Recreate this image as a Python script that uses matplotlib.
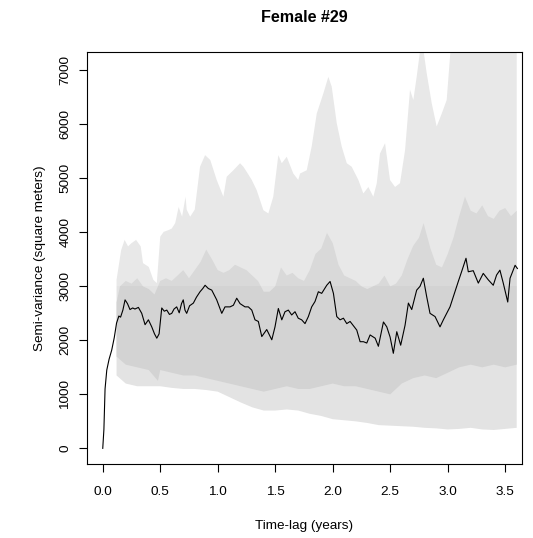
import matplotlib
matplotlib.use("Agg")
import matplotlib.pyplot as plt
from matplotlib.patches import Rectangle
import numpy as np

plt.rcParams['font.family'] = ['Liberation Sans', 'DejaVu Sans']

# empirical semi-variance (time-lag in years, semi-variance in m^2)
lag = [0.000, 0.010, 0.020, 0.035, 0.055, 0.078, 0.100, 0.120, 0.140, 0.155,
       0.175, 0.194, 0.215, 0.237, 0.260, 0.280, 0.310, 0.339, 0.368, 0.397,
       0.426, 0.450, 0.470, 0.490, 0.513, 0.535, 0.557, 0.580, 0.600, 0.620,
       0.643, 0.665, 0.685, 0.700, 0.715, 0.730, 0.755, 0.788, 0.815, 0.846,
       0.870, 0.890, 0.918, 0.948, 0.991, 1.035, 1.063, 1.107, 1.136, 1.165,
       1.194, 1.237, 1.266, 1.296, 1.324, 1.353, 1.383, 1.426, 1.470, 1.498,
       1.527, 1.557, 1.585, 1.614, 1.643, 1.672, 1.700, 1.730, 1.759, 1.788,
       1.817, 1.846, 1.875, 1.904, 1.948, 1.977, 2.006, 2.035, 2.064, 2.093,
       2.122, 2.151, 2.209, 2.238, 2.267, 2.296, 2.325, 2.369, 2.397, 2.441,
       2.470, 2.499, 2.527, 2.557, 2.591, 2.629, 2.658, 2.687, 2.730, 2.759,
       2.788, 2.817, 2.846, 2.890, 2.933, 2.962, 2.991, 3.020, 3.049, 3.092,
       3.122, 3.159, 3.179, 3.222, 3.266, 3.309, 3.353, 3.396, 3.425, 3.454,
       3.483, 3.522, 3.542, 3.586, 3.606]
svf = [0, 350, 1100, 1450, 1650, 1820, 2050, 2320, 2450, 2430,
       2560, 2750, 2680, 2570, 2600, 2580, 2610, 2500, 2290, 2380,
       2250, 2120, 2040, 2120, 2600, 2540, 2560, 2480, 2500, 2580,
       2620, 2510, 2680, 2750, 2560, 2500, 2640, 2690, 2800, 2900,
       2960, 3020, 2960, 2930, 2750, 2500, 2620, 2620, 2650, 2780,
       2680, 2620, 2620, 2560, 2380, 2350, 2070, 2200, 2010, 2250,
       2590, 2380, 2530, 2560, 2470, 2530, 2410, 2380, 2310, 2440,
       2620, 2720, 2900, 2870, 3020, 3090, 2870, 2440, 2380, 2410,
       2310, 2350, 2190, 1975, 1975, 1950, 2100, 2040, 1890, 2340,
       2250, 2060, 1760, 2160, 1910, 2280, 2690, 2570, 2930, 3000,
       3150, 2810, 2500, 2440, 2250, 2380, 2500, 2620, 2810, 3090,
       3280, 3520, 3270, 3290, 3060, 3240, 3120, 3020, 3210, 3300,
       3060, 2710, 3150, 3390, 3330]

# outer confidence band, upper edge
outer_hi_lag = [0.12, 0.16, 0.19, 0.22, 0.25, 0.29, 0.33, 0.35, 0.40, 0.44,
                0.47, 0.50, 0.53, 0.57, 0.60, 0.63, 0.66, 0.69, 0.72, 0.73,
                0.76, 0.80, 0.846, 0.89, 0.935, 0.991, 1.049, 1.078, 1.107, 1.136,
                1.194, 1.223, 1.252, 1.296, 1.339, 1.397, 1.44, 1.483, 1.527, 1.557,
                1.60, 1.657, 1.70, 1.716, 1.774, 1.817, 1.861, 1.918, 1.962, 1.991,
                2.035, 2.078, 2.122, 2.165, 2.223, 2.266, 2.31, 2.353, 2.383, 2.411,
                2.455, 2.498, 2.542, 2.585, 2.629, 2.672, 2.701, 2.73, 2.774, 2.817,
                2.861, 2.904, 2.948, 2.991, 3.02, 3.049, 3.60]
outer_hi = [3120, 3670, 3860, 3740, 3800, 3860, 3740, 3430, 3360, 3120,
            3060, 3920, 4010, 4040, 4070, 4170, 4470, 4290, 4660, 4420,
            4290, 4420, 5215, 5430, 5340, 4970, 4660, 5030, 5090, 5150,
            5280, 5215, 5120, 4970, 4780, 4410, 4350, 4660, 5430, 5280,
            5400, 5090, 4970, 5090, 5150, 5590, 6200, 6570, 6880, 6700,
            6020, 5590, 5280, 5215, 4970, 4720, 4840, 4660, 4910, 5460,
            5650, 4970, 4840, 4910, 5520, 6640, 6450, 6880, 7600, 6950,
            6390, 5960, 6200, 6450, 7250, 8000, 8000]

# outer confidence band, lower edge
outer_lo_lag = [0.12, 0.2, 0.3, 0.4, 0.5, 0.6, 0.7, 0.8, 0.9, 1.0,
                1.1, 1.2, 1.3, 1.4, 1.5, 1.6, 1.7, 1.8, 1.9, 2.0,
                2.1, 2.2, 2.3, 2.4, 2.5, 2.6, 2.7, 2.8, 2.9, 3.0,
                3.1, 3.2, 3.3, 3.4, 3.5, 3.6]
outer_lo = [1350, 1200, 1150, 1150, 1150, 1120, 1100, 1100, 1080, 1050,
            950, 850, 760, 700, 700, 720, 700, 640, 600, 540,
            520, 500, 470, 430, 420, 410, 400, 380, 370, 350,
            360, 380, 350, 340, 360, 380]

# inner confidence band
inner_hi_lag = [0.12, 0.15, 0.2, 0.25, 0.3, 0.35, 0.4, 0.45, 0.5, 0.55,
                0.6, 0.65, 0.7, 0.75, 0.8, 0.85, 0.9, 0.95, 1.0, 1.05,
                1.1, 1.15, 1.2, 1.25, 1.3, 1.35, 1.4, 1.45, 1.5, 1.55,
                1.6, 1.65, 1.7, 1.75, 1.8, 1.85, 1.9, 1.95, 2.0, 2.05,
                2.1, 2.15, 2.2, 2.25, 2.3, 2.35, 2.4, 2.45, 2.5, 2.55,
                2.6, 2.65, 2.7, 2.75, 2.79, 2.85, 2.9, 2.95, 3.0, 3.05,
                3.1, 3.15, 3.2, 3.25, 3.3, 3.35, 3.4, 3.45, 3.5, 3.55, 3.6]
inner_hi = [2700, 3000, 3100, 3050, 3150, 3000, 2950, 2850, 3100, 3150,
            3100, 3200, 3300, 3150, 3300, 3450, 3680, 3500, 3300, 3250,
            3300, 3400, 3350, 3300, 3200, 3100, 2900, 2900, 3000, 3350,
            3200, 3250, 3150, 3100, 3300, 3600, 3700, 3990, 3800, 3400,
            3200, 3150, 3100, 3000, 2950, 3000, 3050, 3200, 3000, 3050,
            3200, 3500, 3750, 3900, 4170, 3700, 3400, 3350, 3600, 3900,
            4300, 4660, 4400, 4350, 4500, 4300, 4250, 4400, 4450, 4300, 4400]

inner_lo_lag = [0.12, 0.2, 0.3, 0.4, 0.48, 0.5, 0.6, 0.7, 0.8, 0.9,
                1.0, 1.1, 1.2, 1.3, 1.4, 1.5, 1.6, 1.7, 1.8, 1.9,
                2.0, 2.1, 2.2, 2.3, 2.4, 2.5, 2.6, 2.7, 2.8, 2.9,
                3.0, 3.1, 3.2, 3.3, 3.4, 3.5, 3.6]
inner_lo = [1700, 1550, 1500, 1450, 1250, 1450, 1400, 1350, 1350, 1300,
            1250, 1200, 1150, 1100, 1050, 1100, 1150, 1100, 1100, 1150,
            1200, 1150, 1150, 1100, 1050, 1000, 1200, 1300, 1350, 1300,
            1400, 1500, 1550, 1500, 1550, 1500, 1550]

x_ticks = [0.0, 0.5, 1.0, 1.5, 2.0, 2.5, 3.0, 3.5]
y_ticks = [0, 1000, 2000, 3000, 4000, 5000, 6000, 7000]

x_lim = (-0.137, 3.646)
y_lim = (-290, 7340)

fig = plt.figure(figsize=(5.33, 5.38), dpi=100)
ax = fig.add_axes([87 / 533, 1 - 464 / 538, 435 / 533, 412 / 538])

outer_x = np.r_[outer_hi_lag, outer_lo_lag[::-1]]
outer_y = np.r_[outer_hi, outer_lo[::-1]]
inner_x = np.r_[inner_hi_lag, inner_lo_lag[::-1]]
inner_y = np.r_[inner_hi, inner_lo[::-1]]

# shading is a touch lighter above 3000 than below it;
# clip rectangles stay inside the axes limits
split = 3000
for y0, y1, c_out, c_in in [(y_lim[0], split, '#e3e3e3', '#d3d3d3'),
                            (split, y_lim[1], '#e8e8e8', '#d9d9d9')]:
    clip = Rectangle((x_lim[0], y0), x_lim[1] - x_lim[0], y1 - y0,
                     transform=ax.transData)
    for p in ax.fill(outer_x, outer_y, color=c_out, lw=0):
        p.set_clip_path(clip)
    for p in ax.fill(inner_x, inner_y, color=c_in, lw=0):
        p.set_clip_path(clip)

ax.plot(lag, svf, color='black', lw=0.8)

ax.set_xlim(*x_lim)
ax.set_ylim(*y_lim)
ax.set_xticks(x_ticks)
ax.set_xticklabels([f"{v:.1f}" for v in x_ticks])
ax.set_yticks(y_ticks)
ax.set_yticklabels([str(v) for v in y_ticks], rotation=90, va='center')
ax.tick_params(direction='out', length=5.8, width=0.8, labelsize=9.7)
ax.tick_params(axis='x', pad=10)
ax.tick_params(axis='y', pad=5.5)
for s in ax.spines.values():
    s.set_linewidth(0.8)

ax.set_xlabel('Time-lag (years)', fontsize=9.7)
ax.xaxis.set_label_coords(0.5, -0.135)
ax.set_ylabel('Semi-variance (square meters)', fontsize=9.7)
ax.yaxis.set_label_coords(-0.094, 0.5)
fig.text(0.5713, 1 - 18 / 538, 'Female #29', ha='center', va='center',
         fontsize=11.6, fontweight='bold')

fig.savefig('out.png', dpi=100)
